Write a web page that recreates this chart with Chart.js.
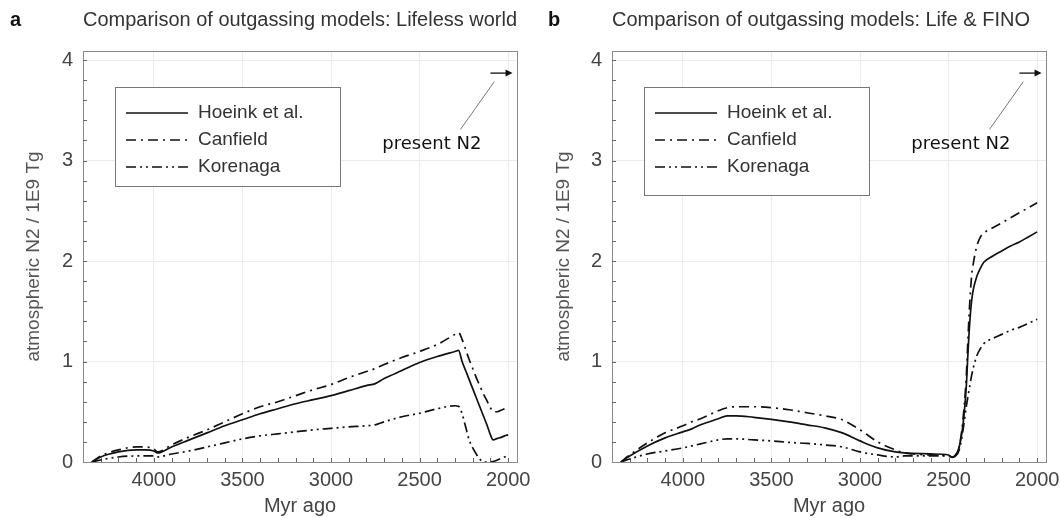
<!DOCTYPE html>
<html>
<head>
<meta charset="utf-8">
<script src="https://cdn.jsdelivr.net/npm/chart.js@4.4.1/dist/chart.umd.min.js"></script>
<style>
  html, body { margin: 0; padding: 0; background: #fff; }
  #wrap { position: relative; width: 1060px; height: 518px; overflow: hidden; }
  .panel { position: absolute; top: 0; height: 518px; }
  #pa { left: 0; width: 545px; }
  #pb { left: 530px; width: 530px; }
</style>
</head>
<body>
<div id="wrap">
  <div class="panel" id="pa"><canvas id="ca"></canvas></div>
  <div class="panel" id="pb"><canvas id="cb"></canvas></div>
</div>
<script>
// Atmospheric N2 from three outgassing models, two scenarios side by side.

const SERIES_LABELS = ['Hoeink et al.', 'Canfield', 'Korenaga'];
const xTickValues = [4000, 3500, 3000, 2500, 2000];
const yTickValues = [0, 1, 2, 3, 4];
const PRESENT_N2 = 3.87; // 1E9 Tg, marked by the arrow

// panel a: lifeless world
const lifelessYears = [4350, 4300, 4200, 4100, 4050, 4000, 3980, 3900, 3800, 3700,
  3600, 3500, 3400, 3300, 3200, 3100, 3000, 2900, 2800, 2750,
  2700, 2600, 2500, 2400, 2300, 2280, 2260, 2240, 2220, 2200,
  2180, 2160, 2140, 2120, 2100, 2085, 2060, 2040, 2020, 2000];
const lifelessHoeink = [0, 0.05, 0.10, 0.12, 0.12, 0.11, 0.09, 0.15, 0.22, 0.29,
  0.36, 0.42, 0.48, 0.53, 0.58, 0.62, 0.66, 0.71, 0.76, 0.78,
  0.83, 0.91, 0.99, 1.05, 1.10, 1.11, 1.00, 0.91, 0.82, 0.73,
  0.64, 0.55, 0.46, 0.37, 0.27, 0.22, 0.235, 0.245, 0.26, 0.27];
const lifelessCanfield = [0, 0.06, 0.12, 0.15, 0.15, 0.13, 0.10, 0.17, 0.25, 0.32,
  0.40, 0.48, 0.55, 0.60, 0.66, 0.72, 0.77, 0.84, 0.90, 0.93,
  0.97, 1.04, 1.10, 1.17, 1.27, 1.29, 1.22, 1.12, 1.02, 0.93,
  0.84, 0.76, 0.68, 0.61, 0.54, 0.50, 0.50, 0.515, 0.53, 0.545];
const lifelessKorenaga = [0, 0.02, 0.05, 0.06, 0.06, 0.06, 0.05, 0.08, 0.11, 0.15,
  0.19, 0.23, 0.26, 0.28, 0.30, 0.32, 0.335, 0.35, 0.36, 0.37,
  0.40, 0.45, 0.485, 0.53, 0.56, 0.555, 0.48, 0.35, 0.22, 0.14,
  0.08, 0.03, 0, 0, 0, 0.005, 0.02, 0.035, 0.05, 0.065];

// panel b: life & FINO
const lifeYears = [4350, 4300, 4200, 4100, 4000, 3950, 3900, 3800, 3750, 3700,
  3600, 3500, 3400, 3300, 3200, 3100, 3000, 2900, 2800, 2750,
  2700, 2600, 2500, 2480, 2460, 2440, 2420, 2400, 2390, 2380,
  2370, 2360, 2340, 2320, 2300, 2250, 2200, 2150, 2100, 2050, 2000];
const lifeHoeink = [0, 0.06, 0.16, 0.24, 0.30, 0.33, 0.37, 0.43, 0.46, 0.46,
  0.445, 0.425, 0.40, 0.37, 0.34, 0.29, 0.21, 0.14, 0.10, 0.09,
  0.085, 0.08, 0.07, 0.045, 0.07, 0.15, 0.35, 0.75, 1.10, 1.40,
  1.60, 1.72, 1.85, 1.93, 1.99, 2.05, 2.10, 2.15, 2.19, 2.24, 2.29];
const lifeCanfield = [0, 0.07, 0.19, 0.29, 0.36, 0.40, 0.43, 0.51, 0.54, 0.55,
  0.55, 0.54, 0.52, 0.49, 0.46, 0.42, 0.32, 0.20, 0.12, 0.09,
  0.08, 0.07, 0.06, 0.05, 0.07, 0.15, 0.40, 0.85, 1.25, 1.60,
  1.85, 1.98, 2.15, 2.24, 2.28, 2.33, 2.38, 2.43, 2.48, 2.53, 2.58];
const lifeKorenaga = [0, 0.03, 0.08, 0.11, 0.14, 0.16, 0.18, 0.22, 0.23, 0.23,
  0.22, 0.21, 0.195, 0.185, 0.17, 0.15, 0.10, 0.07, 0.05, 0.06,
  0.06, 0.06, 0.06, 0.05, 0.06, 0.12, 0.30, 0.55, 0.66, 0.76,
  0.86, 0.94, 1.06, 1.13, 1.18, 1.23, 1.27, 1.31, 1.34, 1.38, 1.42];

const DASHES = [[], [10, 5, 2, 5], [10, 4, 2, 4, 2, 4]];
const FONT = '"Liberation Sans", Arial, Helvetica, sans-serif';
Chart.defaults.font.family = FONT;

// frame on all four sides + short inward tick marks (minor every 100 Myr / 0.2)
const frameTicks = {
  id: 'frameTicks',
  beforeDatasetsDraw(chart) {
    const { ctx, chartArea: a, scales: { x, y } } = chart;
    ctx.save();
    ctx.strokeStyle = '#8a8a8a';
    ctx.lineWidth = 1;
    ctx.strokeRect(Math.round(a.left) + 0.5, Math.round(a.top) + 0.5,
      Math.round(a.right - a.left), Math.round(a.bottom - a.top));
    ctx.strokeStyle = '#666';
    ctx.beginPath();
    for (let v = 4300; v >= 2000; v -= 100) {
      const px = Math.round(x.getPixelForValue(v)) + 0.5;
      ctx.moveTo(px, a.bottom);
      ctx.lineTo(px, a.bottom - 4);
    }
    for (let k = 1; k <= 20; k++) {
      const py = Math.round(y.getPixelForValue(k * 0.2)) + 0.5;
      ctx.moveTo(a.left, py);
      ctx.lineTo(a.left + 4, py);
    }
    ctx.stroke();
    ctx.restore();
  },
};

// boxed legend inside the plot, top-left
const legendBox = {
  id: 'legendBox',
  afterDatasetsDraw(chart, args, opts) {
    const { ctx, chartArea: a } = chart;
    const left = Math.round(a.left) + 32, top = Math.round(a.top) + 36;
    const w = 225, h = opts.height;
    ctx.save();
    ctx.fillStyle = '#fff';
    ctx.fillRect(left, top, w, h);
    ctx.strokeStyle = '#777';
    ctx.lineWidth = 1;
    ctx.strokeRect(left + 0.5, top + 0.5, w, h);
    ctx.font = '19px ' + FONT;
    ctx.textBaseline = 'middle';
    chart.data.datasets.forEach((ds, i) => {
      const yy = top + 26 + i * 27;
      ctx.strokeStyle = ds.borderColor;
      ctx.lineWidth = ds.borderWidth;
      ctx.setLineDash(ds.borderDash);
      ctx.beginPath();
      ctx.moveTo(left + 11, yy);
      ctx.lineTo(left + 73, yy);
      ctx.stroke();
      ctx.setLineDash([]);
      ctx.fillStyle = '#333';
      ctx.fillText(ds.label, left + 83, yy);
    });
    ctx.restore();
  },
};

// "present N2" arrow + leader line, placed in data coordinates
const presentArrow = {
  id: 'presentArrow',
  afterDatasetsDraw(chart) {
    const { ctx, scales: { x, y } } = chart;
    const ya = y.getPixelForValue(PRESENT_N2);
    const x0 = x.getPixelForValue(2100), x1 = x.getPixelForValue(1975);
    ctx.save();
    ctx.strokeStyle = '#111';
    ctx.lineWidth = 1.3;
    ctx.beginPath();
    ctx.moveTo(x0, ya);
    ctx.lineTo(x1 - 5, ya);
    ctx.stroke();
    ctx.fillStyle = '#111';
    ctx.beginPath();
    ctx.moveTo(x1, ya);
    ctx.lineTo(x1 - 7, ya - 3.5);
    ctx.lineTo(x1 - 7, ya + 3.5);
    ctx.closePath();
    ctx.fill();
    ctx.strokeStyle = '#777';
    ctx.lineWidth = 1;
    ctx.beginPath();
    ctx.moveTo(x.getPixelForValue(2078), y.getPixelForValue(3.785));
    ctx.lineTo(x.getPixelForValue(2269), y.getPixelForValue(3.31));
    ctx.stroke();
    ctx.font = '18px "DejaVu Sans", Verdana, sans-serif';
    ctx.textAlign = 'right';
    ctx.textBaseline = 'middle';
    ctx.fillText('present N2', x.getPixelForValue(2151), y.getPixelForValue(3.16));
    ctx.restore();
  },
};

const panelLetter = {
  id: 'panelLetter',
  afterDraw(chart, args, opts) {
    const { ctx } = chart;
    ctx.save();
    ctx.font = 'bold 20px ' + FONT;
    ctx.fillStyle = '#111';
    ctx.textBaseline = 'middle';
    ctx.fillText(opts.text, opts.x, 20);
    ctx.restore();
  },
};

function render(canvas, cfg) {
  const datasets = cfg.series.map((vals, i) => ({
    label: SERIES_LABELS[i],
    data: cfg.years.map((yr, j) => ({ x: yr, y: vals[j] })),
    borderColor: '#111',
    borderWidth: 1.7,
    borderDash: DASHES[i],
    pointRadius: 0,
    fill: false,
    cubicInterpolationMode: 'monotone',
  }));

  new Chart(canvas, {
    type: 'line',
    data: { datasets },
    options: {
      responsive: true,
      maintainAspectRatio: false,
      animation: false,
      events: [],
      layout: { padding: { left: 0, right: cfg.padRight, top: 0, bottom: 0 } },
      plugins: {
        legend: { display: false },
        tooltip: { enabled: false },
        title: {
          display: true, text: cfg.title, align: 'start', fullSize: false,
          color: '#333', font: { size: 20, weight: 'normal' },
          padding: { top: 8, bottom: 19 },
        },
        legendBox: { height: cfg.legendHeight },
        panelLetter: { text: cfg.letter, x: cfg.letterX },
      },
      scales: {
        x: {
          type: 'linear',
          reverse: true,
          min: 1950,
          max: 4400,
          afterBuildTicks: (s) => { s.ticks = xTickValues.map((value) => ({ value })); },
          afterFit: (s) => { s.height = 56; s.paddingLeft = 0; s.paddingRight = 0; },
          grid: { color: '#ebebeb', drawTicks: false },
          border: { color: '#8a8a8a' },
          ticks: { color: '#444', font: { size: 20 }, padding: 6, maxRotation: 0, callback: (v) => String(v) },
          title: { display: true, text: 'Myr ago', color: '#444', font: { size: 20 }, padding: { top: 0, bottom: 0 } },
        },
        y: {
          type: 'linear',
          min: 0,
          max: 4.09,
          afterBuildTicks: (s) => { s.ticks = yTickValues.map((value) => ({ value })); },
          afterFit: (s) => { s.width = cfg.axisWidth; s.paddingTop = 0; s.paddingBottom = 0; },
          grid: { color: '#ebebeb', drawTicks: false },
          border: { color: '#8a8a8a' },
          ticks: { color: '#444', font: { size: 20 }, padding: 10, callback: (v) => String(v) },
          title: { display: true, text: 'atmospheric N2 / 1E9 Tg', color: '#555', font: { size: 19 }, padding: { top: 22, bottom: 0 } },
        },
      },
    },
    plugins: [frameTicks, legendBox, presentArrow, panelLetter],
  });
}

render(document.getElementById('ca'), {
  title: 'Comparison of outgassing models: Lifeless world',
  letter: 'a', letterX: 10,
  years: lifelessYears,
  series: [lifelessHoeink, lifelessCanfield, lifelessKorenaga],
  axisWidth: 83, padRight: 28, legendHeight: 99,
});

render(document.getElementById('cb'), {
  title: 'Comparison of outgassing models: Life & FINO',
  letter: 'b', letterX: 18,
  years: lifeYears,
  series: [lifeHoeink, lifeCanfield, lifeKorenaga],
  axisWidth: 82, padRight: 14, legendHeight: 108,
});
</script>
</body>
</html>
